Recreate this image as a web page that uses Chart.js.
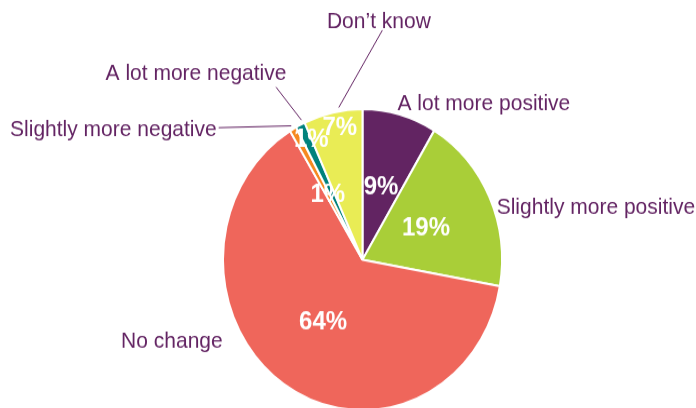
<!DOCTYPE html>
<html>
<head>
<meta charset="utf-8">
<script src="https://cdn.jsdelivr.net/npm/chart.js@4.4.1/dist/chart.umd.min.js"></script>
<style>
  body { margin: 0; background: #fff; }
  #wrap { width: 696px; height: 408px; overflow: hidden; }
  #stretch { transform: scaleY(1.08); transform-origin: 0 0; }
</style>
</head>
<body>
<div id="wrap"><div id="stretch"><canvas id="myChart" width="696" height="382"></canvas></div></div>
<script>
// data
var categories = [
    "A lot more positive",
    "Slightly more positive",
    "No change",
    "Slightly more negative",
    "A lot more negative",
    "Don\u2019t know"
];
var shares = [8.6, 19.2, 63.5, 0.8, 1.1, 6.8];
var sliceColors = ["#622462", "#A9CE38", "#EF665B", "#F6891F", "#00827D", "#E9EC55"];

// where the white percentage goes inside each slice (fraction of radius, angle shift in degrees)
var pctRadius = [0.5, 0.5, 0.5, 0.5, 0.88, 0.89];
var pctShift = [0, 0, 0, 0, 1.8, 1.7];

// category labels, offsets from pie centre
var catLabels = [
    { dx: 35, dy: -138.6, align: "left" },
    { dx: 134.2, dy: -43, align: "left" },
    { dx: -139.8, dy: 81.1, align: "right" },
    { dx: -145.8, dy: -114.6, align: "right", lead: [2, -7.7], t: 0.5 },
    { dx: -166.5, dy: -166.5, align: "center", lead: [80, 6.6], t: 0.8 },
    { dx: 16.4, dy: -214.6, align: "center", lead: [3.5, 2], t: 0.61 }
];

var textPurple = "#632463";

var labelPlugin = {
    id: "pieLabels",
    afterDatasetsDraw: function(chart) {
        var ctx = chart.ctx;
        var meta = chart.getDatasetMeta(0);
        ctx.save();
        meta.data.forEach(function(arc, i) {
            var p = arc.getProps(["x", "y", "startAngle", "endAngle", "outerRadius"], true);
            var mid = (p.startAngle + p.endAngle) / 2 + pctShift[i] * Math.PI / 180;
            var r = p.outerRadius * pctRadius[i];
            ctx.fillStyle = "#fff";
            ctx.font = "bold 24px 'Liberation Sans', Arial, sans-serif";
            ctx.textAlign = "center";
            ctx.textBaseline = "middle";
            ctx.fillText(Math.round(shares[i]) + "%", p.x + Math.cos(mid) * r, p.y + Math.sin(mid) * r);

            var lab = catLabels[i];
            var lx = p.x + lab.dx, ly = p.y + lab.dy;
            ctx.fillStyle = textPurple;
            ctx.font = "21px 'Liberation Sans', Arial, sans-serif";
            ctx.textAlign = lab.align;
            ctx.textBaseline = "alphabetic";
            ctx.fillText(categories[i], lx, ly);

            if (lab.lead) {
                var a = p.startAngle + (p.endAngle - p.startAngle) * lab.t;
                var er = p.outerRadius + 3.5;
                ctx.strokeStyle = textPurple;
                ctx.lineWidth = 1;
                ctx.beginPath();
                ctx.moveTo(lx + lab.lead[0], ly + lab.lead[1]);
                ctx.lineTo(p.x + Math.cos(a) * er, p.y + Math.sin(a) * er);
                ctx.stroke();
            }
        });
        ctx.restore();
    }
};

var ctx = document.getElementById("myChart").getContext("2d");
var myPieChart = new Chart(ctx, {
    type: "pie",
    data: {
        labels: categories,
        datasets: [{
            data: shares,
            backgroundColor: sliceColors,
            borderColor: "#fff",
            borderWidth: 2
        }]
    },
    options: {
        responsive: false,
        animation: false,
        layout: { padding: { top: 100, bottom: 1, left: 222, right: 193 } },
        plugins: {
            legend: { display: false },
            tooltip: { enabled: false }
        }
    },
    plugins: [labelPlugin]
});
</script>
</body>
</html>
